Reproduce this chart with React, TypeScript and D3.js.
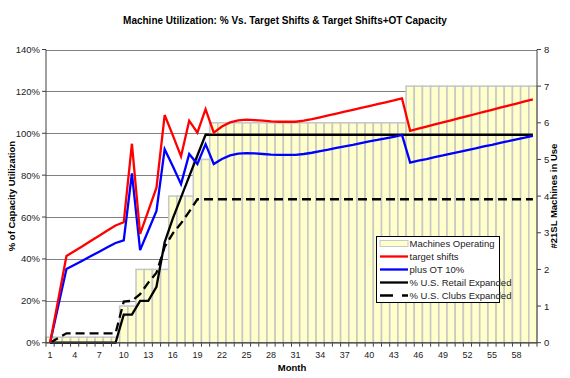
import React from "react";
import * as d3 from "d3";

const months: number[] = [
  1, 2, 3, 4, 5, 6, 7, 8, 9, 10, 11, 12, 13, 14, 15, 16, 17, 18, 19, 20,
  21, 22, 23, 24, 25, 26, 27, 28, 29, 30, 31, 32, 33, 34, 35, 36, 37, 38, 39, 40,
  41, 42, 43, 44, 45, 46, 47, 48, 49, 50, 51, 52, 53, 54, 55, 56, 57, 58, 59, 60,
];

const machinesOperating: number[] = [
  0.15, 0.15, 0.15, 0.15, 0.15, 0.15, 0.15, 0.15, 0.15, 1, 1, 2, 2, 2, 2, 4, 4, 4, 5, 5,
  6, 6, 6, 6, 6, 6, 6, 6, 6, 6, 6, 6, 6, 6, 6, 6, 6, 6, 6, 6,
  6, 6, 6, 6, 7, 7, 7, 7, 7, 7, 7, 7, 7, 7, 7, 7, 7, 7, 7, 7,
];

const targetShifts: number[] = [
  0, 20.7, 41.4, 43.8, 46.2, 48.7, 51.1, 53.6, 56.0, 57.5,
  95.0, 52.0, 63.0, 74.0, 108.7, 99.0, 89.0, 106.0, 100.3, 111.5,
  100.3, 103.2, 105.2, 106.2, 106.5, 106.3, 106.0, 105.7, 105.5, 105.5,
  105.5, 106.0, 106.7, 107.6, 108.5, 109.4, 110.3, 111.2, 112.1, 113.0,
  113.9, 114.8, 115.7, 116.7, 101.2, 102.2, 103.2, 104.2, 105.2, 106.2,
  107.2, 108.2, 109.2, 110.2, 111.2, 112.2, 113.2, 114.2, 115.2, 116.2,
];

const plusOT10: number[] = [
  0, 17.6, 35.2, 37.2, 39.3, 41.4, 43.4, 45.6, 47.6, 48.9,
  80.8, 44.2, 53.6, 62.9, 92.4, 84.2, 75.7, 90.1, 85.3, 94.8,
  85.3, 87.7, 89.4, 90.3, 90.5, 90.4, 90.1, 89.8, 89.7, 89.7,
  89.7, 90.1, 90.7, 91.5, 92.2, 93.0, 93.8, 94.5, 95.3, 96.1,
  96.8, 97.6, 98.3, 99.2, 86.0, 86.9, 87.7, 88.6, 89.4, 90.3,
  91.1, 92.0, 92.8, 93.7, 94.5, 95.4, 96.2, 97.1, 97.9, 98.8,
];

const retailExpanded: number[] = [
  0, 0, 0, 0, 0, 0, 0, 0, 0, 13.4,
  13.4, 20, 20, 26.7, 48, 59.4, 69.4, 79.4, 89.4, 99.3,
  99.3, 99.3, 99.3, 99.3, 99.3, 99.3, 99.3, 99.3, 99.3, 99.3,
  99.3, 99.3, 99.3, 99.3, 99.3, 99.3, 99.3, 99.3, 99.3, 99.3,
  99.3, 99.3, 99.3, 99.3, 99.3, 99.3, 99.3, 99.3, 99.3, 99.3,
  99.3, 99.3, 99.3, 99.3, 99.3, 99.3, 99.3, 99.3, 99.3, 99.3,
];

const clubsExpanded: number[] = [
  0, 2.3, 4.5, 4.5, 4.5, 4.5, 4.5, 4.5, 4.5, 19.6,
  20, 23.2, 28.7, 33.4, 45.8, 52.2, 57, 62.6, 68.5, 68.5,
  68.5, 68.5, 68.5, 68.5, 68.5, 68.5, 68.5, 68.5, 68.5, 68.5,
  68.5, 68.5, 68.5, 68.5, 68.5, 68.5, 68.5, 68.5, 68.5, 68.5,
  68.5, 68.5, 68.5, 68.5, 68.5, 68.5, 68.5, 68.5, 68.5, 68.5,
  68.5, 68.5, 68.5, 68.5, 68.5, 68.5, 68.5, 68.5, 68.5, 68.5,
];

const leftTicks: number[] = [0, 20, 40, 60, 80, 100, 120, 140];
const rightTicks: number[] = [0, 1, 2, 3, 4, 5, 6, 7, 8];
const monthLabels: number[] = [1, 4, 7, 10, 13, 16, 19, 22, 25, 28, 31, 34, 37, 40, 43, 46, 49, 52, 55, 58];

const TITLE = "Machine Utilization: % Vs. Target Shifts & Target Shifts+OT Capacity";
const legendItems = [
  { label: "Machines Operating", kind: "bar" },
  { label: "target shifts", kind: "line", color: "#FF0000", dash: "" },
  { label: "plus OT 10%", kind: "line", color: "#0000FF", dash: "" },
  { label: "% U.S. Retail Expanded", kind: "line", color: "#000000", dash: "" },
  { label: "% U.S. Clubs Expanded", kind: "line", color: "#000000", dash: "13,9" },
];

const FONT = "'Liberation Sans', Arial, sans-serif";

export default function App() {
  const W = 570, H = 378;
  const left = 46, right = 537, top = 49.5, bottom = 342.7;

  const x = d3.scaleBand<number>().domain(months).range([left, right]).paddingInner(0).paddingOuter(0);
  const cx = (m: number) => (x(m) as number) + x.bandwidth() / 2;
  const yL = d3.scaleLinear().domain([0, 140]).range([bottom, top]);
  const yR = d3.scaleLinear().domain([0, 8]).range([bottom, top]);

  const line = (vals: number[]) =>
    d3.line<number>().x((_, i) => cx(months[i])).y((d) => yL(d))(vals) as string;

  const series = [
    { vals: clubsExpanded, color: "#000000", dash: "9,5" },
    { vals: retailExpanded, color: "#000000", dash: "" },
    { vals: plusOT10, color: "#0000FF", dash: "" },
    { vals: targetShifts, color: "#FF0000", dash: "" },
  ];

  const lgX = 376.5, lgY = 236.5, lgW = 123, lgH = 66;

  return (
    <svg width={W} height={H} style={{ position: "absolute", left: 0, top: 0, background: "#fff" }} fontFamily={FONT}>
      <text x={285} y={24} textAnchor="middle" fontSize={10} fontWeight="bold" fill="#000">{TITLE}</text>

      {/* gridlines */}
      {leftTicks.map((t) => (
        <line key={"g" + t} x1={left} x2={right} y1={Math.round(yL(t)) + 0.5} y2={Math.round(yL(t)) + 0.5} stroke="#808080" strokeWidth={1} />
      ))}

      {/* bars */}
      {months.map((m, i) => {
        const h = bottom - yR(machinesOperating[i]);
        return (
          <rect key={"b" + m} x={x(m)} y={yR(machinesOperating[i])} width={x.bandwidth()} height={h}
            fill="#FFFFCC" stroke="#C8C8C8" strokeWidth={1.6} />
        );
      })}

      {/* lines */}
      {series.map((s, i) => (
        <path key={"s" + i} d={line(s.vals)} fill="none" stroke={s.color} strokeWidth={2.3}
          strokeDasharray={s.dash || undefined} strokeLinejoin="miter" />
      ))}

      {/* axes */}
      <line x1={left} x2={left} y1={top} y2={bottom} stroke="#404040" strokeWidth={1} />
      <line x1={right} x2={right} y1={top} y2={bottom} stroke="#404040" strokeWidth={1} />
      <line x1={left} x2={right} y1={bottom} y2={bottom} stroke="#404040" strokeWidth={1} />

      {leftTicks.map((t) => (
        <g key={"lt" + t}>
          <line x1={left - 4} x2={left} y1={yL(t)} y2={yL(t)} stroke="#404040" />
          <text x={left - 6} y={yL(t) + 3.5} textAnchor="end" fontSize={9.5} fill="#222">{t + "%"}</text>
        </g>
      ))}
      {rightTicks.map((t) => (
        <g key={"rt" + t}>
          <line x1={right} x2={right + 4} y1={yR(t)} y2={yR(t)} stroke="#404040" />
          <text x={right + 7} y={yR(t) + 3.5} textAnchor="start" fontSize={9.5} fill="#222">{t}</text>
        </g>
      ))}
      {months.map((m) => (
        <line key={"xt" + m} x1={x(m)} x2={x(m)} y1={bottom} y2={bottom + 4} stroke="#404040" />
      ))}
      <line x1={right} x2={right} y1={bottom} y2={bottom + 4} stroke="#404040" />
      {monthLabels.map((m) => (
        <text key={"xl" + m} x={cx(m)} y={bottom + 15} textAnchor="middle" fontSize={9} fill="#222">{m}</text>
      ))}

      <text x={292} y={371} textAnchor="middle" fontSize={9.5} fontWeight="bold" fill="#000">Month</text>
      <text transform={`translate(15,${(top + bottom) / 2}) rotate(-90)`} textAnchor="middle" fontSize={9.5} fontWeight="bold" fill="#000">% of Capacity Utilization</text>
      <text transform={`translate(557,${(top + bottom) / 2}) rotate(-90)`} textAnchor="middle" fontSize={9.5} fontWeight="bold" fill="#000">#21SL Machines in Use</text>

      {/* legend */}
      <rect x={lgX} y={lgY} width={lgW} height={lgH} fill="#fff" stroke="#000" strokeWidth={1} />
      {legendItems.map((it, i) => {
        const yy = lgY + 7 + i * 13;
        return (
          <g key={"lg" + i}>
            {it.kind === "bar" ? (
              <rect x={lgX + 3.5} y={yy - 3} width={28} height={6} fill="#FFFFCC" stroke="#C8C8C8" strokeWidth={1} />
            ) : (
              <line x1={lgX + 3.5} x2={lgX + 31.5} y1={yy} y2={yy} stroke={it.color} strokeWidth={2.3}
                strokeDasharray={it.dash || undefined} />
            )}
            <text x={lgX + 33} y={yy + 3.5} fontSize={9.5} fill="#222">{it.label}</text>
          </g>
        );
      })}
    </svg>
  );
}
